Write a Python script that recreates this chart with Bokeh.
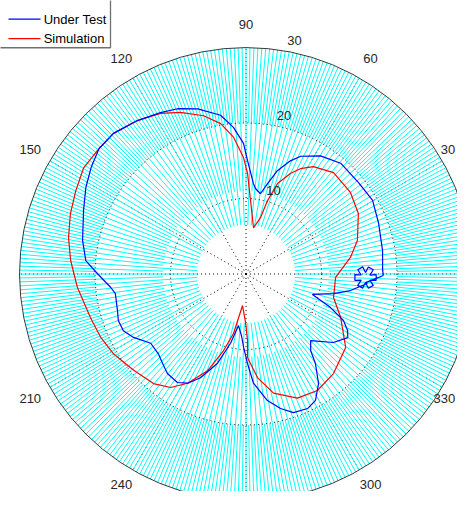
import numpy as np
from bokeh.plotting import figure
from bokeh.models import Range1d
from bokeh.embed import file_html
from bokeh.resources import INLINE
from bokeh.core.properties import value

# ---------------- data ----------------
# "Under Test" trace: angle (deg), radius
test_theta = [359.4, 1.5, 9.8, 20.9, 30.2, 39.1, 49.5, 57.8, 65.1, 68.6, 73.1, 76.6, 79.8,
              83.7, 85.3, 89.2, 91.1, 94.9, 99.1, 106.3, 112.5, 117.9, 125.3, 133.3, 139.5,
              145.5, 151.7, 158.7, 168.4, 175.2, 179.8, 185.7, 188.5, 195.9, 200.0, 204.8,
              209.4, 216.0, 222.3, 227.0, 231.7, 237.7, 241.9, 246.3, 252.3, 257.4, 261.7,
              265.8, 268.1, 271.0, 273.9, 279.6, 284.4, 288.9, 294.6, 298.8, 303.5, 307.8,
              310.1, 314.1, 321.9, 328.0, 330.9, 334.5, 338.4, 342.9, 347.4, 351.0, 355.5]
test_r = [18.2, 18.1, 18.35, 18.8, 19.4, 19.2, 19.3, 18.5, 17.2, 16.1, 14.3, 12.3, 10.8,
          11.4, 12.0, 15.0, 17.3, 19.5, 21.3, 22.8, 23.7, 24.2, 24.9, 25.6, 25.6,
          24.9, 24.1, 23.1, 22.1, 21.3, 19.7, 18.0, 17.5, 17.7, 18.0, 17.9,
          17.1, 15.6, 15.7, 16.2, 16.8, 17.0, 16.4, 15.0, 12.4, 9.4, 6.9,
          8.2, 9.7, 11.9, 14.5, 17.0, 18.4, 19.4, 19.6, 19.1, 17.4, 15.0,
          13.3, 12.3, 14.7, 15.9, 15.4, 14.3, 12.0, 9.2, 11.9, 14.0, 16.1]
# small knot in the measured trace near 0 deg
knot_theta = [355.9, 353.4, 354.9, 357.2, 357.2, 359.7, 359.5, 1.9, 3.3, 0.7, 3.5, 2.2,
              359.5, 359.7, 356.7, 357.0, 354.2, 353.1, 355.9]
knot_r = [15.87, 16.31, 16.92, 16.42, 17.26, 17.24, 16.40, 16.87, 16.23, 15.83, 15.48, 14.81,
          15.25, 14.42, 14.44, 15.28, 14.87, 15.56, 15.87]

# "Simulation" trace
sim_theta = [9.0, 16.7, 28.3, 38.0, 49.2, 57.9, 62.7, 66.1, 70.8, 73.7, 75.6, 80.8, 86.5,
             89.1, 91.2, 95.2, 99.6, 105.0, 112.1, 118.0, 125.3, 133.3, 140.3, 146.8, 153.9,
             161.0, 168.4, 175.6, 184.6, 195.6, 203.6, 211.0, 220.6, 229.8, 236.4, 241.9,
             248.3, 253.6, 258.1, 263.7, 269.4, 271.3, 271.0, 276.3, 283.0, 292.5, 301.5,
             311.3, 323.6, 335.3, 345.0, 357.8]
sim_r = [14.0, 15.4, 16.9, 17.55, 17.75, 16.8, 15.7, 14.6, 12.7, 10.1, 7.7, 6.2, 9.75,
         13.3, 15.4, 18.2, 20.2, 21.7, 23.1, 24.1, 24.9, 25.6, 25.6, 25.7, 25.1,
         24.6, 24.0, 23.3, 22.4, 21.4, 21.0, 20.5, 19.6, 19.0, 18.05, 16.4,
         13.8, 10.6, 8.05, 4.2, 6.4, 8.8, 11.06, 13.8, 16.2, 17.8, 18.1,
         17.55, 16.4, 13.8, 12.0, 11.87]

r_max = 30
ring_values = [10, 20]
radial_tick_values = [10, 20, 30]
radial_tick_labels = ["10", "20", "30"]
angle_label_values = [60, 90, 120, 150, 210]
angle_label_texts = ["60", "90", "120", "150", "210"]
edge_label_values = [30, 330]
edge_label_texts = ["30", "330"]
bottom_label_values = [240, 300]
bottom_label_texts = ["240", "300"]
spoke_grid_angles = [0, 30, 60, 90, 120, 150, 180, 210, 240, 270, 300, 330]
cyan_angles = list(range(0, 360))
cyan_inner_pattern = [6.5, 20, 11, 20]
legend_names = ["Under Test", "Simulation"]
legend_colors = ["#0000ff", "#ff0000"]

# ---------------- helpers ----------------
def pol(theta, r):
    t = np.deg2rad(np.asarray(theta, dtype=float))
    r = np.asarray(r, dtype=float)
    return r * np.cos(t), r * np.sin(t)

FONT = value("Liberation Sans")
TXT = "#262626"

p = figure(width=457, height=491, output_backend="svg", toolbar_location=None,
           x_range=Range1d(-32.52, 28.01), y_range=Range1d(-28.81, 36.23),
           min_border=0)
p.axis.visible = False
p.grid.visible = False
p.outline_line_color = None
p.background_fill_color = "white"
p.border_fill_color = "white"

# dotted spokes (mostly hidden under the cyan lines, like the reference)
sx1, sy1 = pol(spoke_grid_angles, [r_max] * len(spoke_grid_angles))
p.segment(x0=[0] * len(sx1), y0=[0] * len(sy1), x1=sx1, y1=sy1,
          line_color="black", line_width=1, line_dash="1 3")

# cyan radial lines
c_in = [cyan_inner_pattern[a % len(cyan_inner_pattern)] for a in cyan_angles]
x0, y0 = pol(cyan_angles, c_in)
x1, y1 = pol(cyan_angles, [r_max] * len(cyan_angles))
p.segment(x0=x0, y0=y0, x1=x1, y1=y1, line_color="#00ffff", line_width=1)

# dotted grid rings
for rv in ring_values:
    p.circle(x=0, y=0, radius=rv, fill_color=None, line_color="black",
             line_width=1, line_dash="1 3")
# outer circle
p.circle(x=0, y=0, radius=r_max, fill_color=None, line_color="#3a3a3a", line_width=1)

# data traces
bt = test_theta + knot_theta + [test_theta[0]]
br = test_r + knot_r + [test_r[0]]
bx, by = pol(bt, br)
st = sim_theta + [sim_theta[0]]
sr = sim_r + [sim_r[0]]
rx, ry = pol(st, sr)
p.line(rx, ry, line_color="#ff0000", line_width=1.2)
p.line(bx, by, line_color="#0000ff", line_width=1.2)

# angle labels
lx, ly = pol(angle_label_values, [r_max * 1.1] * len(angle_label_values))
p.text(x=lx, y=ly, text=angle_label_texts, text_font=FONT, text_font_size="13px",
       text_align="center", text_baseline="middle", text_color=TXT)
ex, ey = pol(edge_label_values, [r_max * 1.1] * len(edge_label_values))
p.text(x=[27.7] * len(ex), y=ey, text=edge_label_texts, text_font=FONT,
       text_font_size="13px", text_align="right", text_baseline="middle", text_color=TXT)
bx2, _ = pol(bottom_label_values, [r_max * 1.1] * len(bottom_label_values))
p.text(x=bx2, y=[-28.5] * len(bx2), text=bottom_label_texts, text_font=FONT,
       text_font_size="13px", text_align="center", text_baseline="bottom", text_color=TXT)

# radial labels
c82 = np.cos(np.deg2rad(82.0))
s82 = np.sin(np.deg2rad(82.0))
rlx = [v * c82 + 1.3 for v in radial_tick_values]
rly = [v * s82 + 0.6 for v in radial_tick_values]
p.text(x=rlx, y=rly, text=radial_tick_labels, text_font=FONT, text_font_size="13px",
       text_align="left", text_baseline="bottom", text_color=TXT)

# legend box (top-left, partly outside the view like the reference)
p.quad(left=[-40], right=[-17.95], bottom=[29.97], top=[40], fill_color="white",
       line_color="#707070", line_width=1.3)
leg_y = [33.77, 31.19]
for name, col, yy in zip(legend_names, legend_colors, leg_y):
    p.line([-31.46, -27.22], [yy, yy], line_color=col, line_width=1.2)
p.text(x=[-26.8, -26.8], y=leg_y, text=legend_names, text_font=FONT,
       text_font_size="13px", text_align="left", text_baseline="middle",
       text_color="black")

open("out.html", "w").write(file_html(p, INLINE))
